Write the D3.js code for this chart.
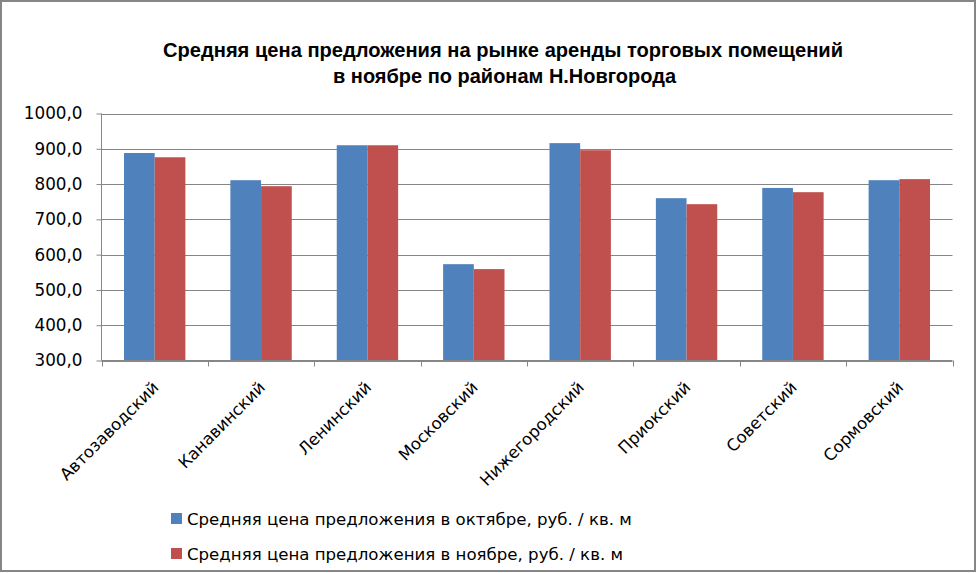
<!DOCTYPE html>
<html><head><meta charset="utf-8">
<script src="https://cdn.jsdelivr.net/npm/d3@7"></script>
<style>body{margin:0;background:#fff}svg{display:block}</style>
</head><body><svg id="c" width="977" height="573"></svg>
<script>
const categories = ["Автозаводский","Канавинский","Ленинский","Московский","Нижегородский","Приокский","Советский","Сормовский"];
const octValues = [888, 811, 910, 573, 916, 760, 789, 811];
const novValues = [876, 794, 910, 559, 896, 743, 777, 814];
const seriesNames = ["Средняя цена предложения в октябре, руб. / кв. м","Средняя цена предложения в ноябре, руб. / кв. м"];
const yTicks = [300,400,500,600,700,800,900,1000];
const titleLines = ["Средняя цена предложения на рынке аренды торговых помещений","в ноябре по районам Н.Новгорода"];
const colors = ["#4F81BD","#C0504D"];

const svg = d3.select("#c");
const W=977,H=573;
svg.append("rect").attr("x",1).attr("y",1).attr("width",W-3).attr("height",H-3)
  .attr("fill","#fff").attr("stroke","#868686").attr("stroke-width",2);

const L=101.5,R=952.5,T=113.5,B=360.5;
const x = d3.scaleBand().domain(categories).range([L,R]).padding(0);
const y = d3.scaleLinear().domain([300,1000]).range([B,T]);
const xs = d3.scaleBand().domain([0,1]).range([0,x.bandwidth()]).paddingInner(0).paddingOuter(0.733);

// gridlines
svg.append("g").selectAll("line").data(yTicks).join("line")
  .attr("x1",L).attr("x2",R).attr("y1",d=>Math.round(y(d))+0.5).attr("y2",d=>Math.round(y(d))+0.5)
  .attr("stroke","#868686").attr("stroke-width",1);

// bars
const groups = svg.append("g").selectAll("g").data(categories).join("g")
  .attr("transform",d=>`translate(${x(d)},0)`);
groups.selectAll("rect").data((d,i)=>[octValues[i],novValues[i]]).join("rect")
  .attr("x",(v,j)=>xs(j)).attr("width",xs.bandwidth())
  .attr("y",v=>y(v)).attr("height",v=>y(300)-y(v))
  .attr("fill",(v,j)=>colors[j]);

// y axis
const yAxis = d3.axisLeft(y).tickValues(yTicks).tickSize(5).tickPadding(14)
  .tickFormat(d=>d3.format(".1f")(d).replace(".",","));
const gy = svg.append("g").attr("transform",`translate(${L},0)`).call(yAxis);
gy.select(".domain").attr("stroke","#868686").attr("d",`M0,${T}V${B}`);
gy.selectAll(".tick line").attr("stroke","#868686");
gy.selectAll(".tick text").attr("font-family","DejaVu Sans").attr("font-size",16.8).attr("fill","#000");

// x axis
const gx = svg.append("g").attr("transform",`translate(0,${B})`);
gx.append("line").attr("x1",L).attr("x2",R).attr("stroke","#868686");
const bounds = categories.map(c=>x(c)).concat([x(categories[categories.length-1])+x.bandwidth()]);
gx.selectAll("line.t").data(bounds).join("line").attr("class","t")
  .attr("x1",d=>Math.round(d)+0.5).attr("x2",d=>Math.round(d)+0.5).attr("y1",0).attr("y2",6).attr("stroke","#868686");
gx.selectAll("text").data(categories).join("text")
  .attr("transform",d=>`translate(${x(d)+x.bandwidth()/2+5},${28}) rotate(-45)`)
  .attr("text-anchor","end").attr("font-family","DejaVu Sans").attr("font-size",16.5).attr("fill","#000")
  .text(d=>d);

// title
const titleWidths = [680, 343];
svg.append("g").selectAll("text").data(titleLines).join("text")
  .attr("x",(d,i)=>i===0?503:504.5).attr("y",(d,i)=>57+i*26).attr("text-anchor","middle")
  .attr("font-family","Liberation Sans").attr("font-weight","bold").attr("font-size",20)
  .attr("textLength",(d,i)=>titleWidths[i]).attr("lengthAdjust","spacingAndGlyphs")
  .attr("fill","#000").text(d=>d);

// legend
const lg = svg.append("g").selectAll("g").data(seriesNames).join("g")
  .attr("transform",(d,i)=>`translate(171,${513+i*35})`);
lg.append("rect").attr("width",11).attr("height",11).attr("fill",(d,i)=>colors[i]);
lg.append("text").attr("x",16).attr("y",12).attr("font-family","DejaVu Sans").attr("font-size",16.6).attr("fill","#000").text(d=>d);
</script></body></html>
